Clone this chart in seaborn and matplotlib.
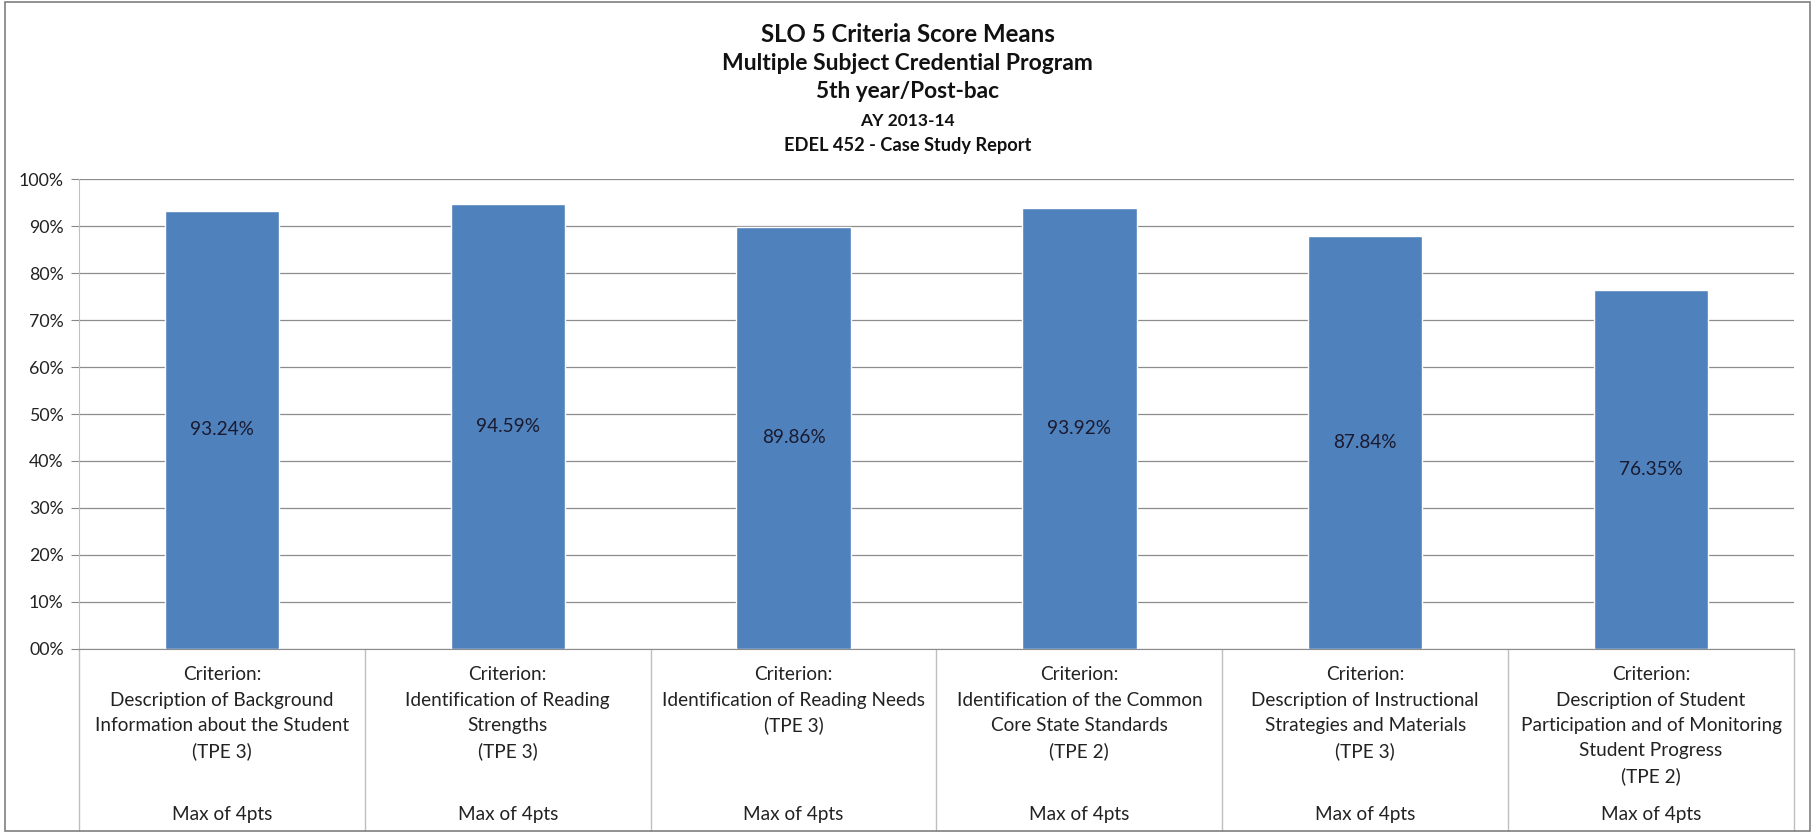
import matplotlib
matplotlib.use("Agg")
import matplotlib.pyplot as plt
import matplotlib.transforms as mtransforms
from matplotlib.patches import Rectangle
from matplotlib.ticker import FuncFormatter
import pandas as pd
import seaborn as sns

# chart data
criteria = [
    ["Criterion:", "Description of Background", "Information about the Student", "(TPE 3)"],
    ["Criterion:", "Identification of Reading", "Strengths", "(TPE 3)"],
    ["Criterion:", "Identification of Reading Needs", "(TPE 3)"],
    ["Criterion:", "Identification of the Common", "Core State Standards", "(TPE 2)"],
    ["Criterion:", "Description of Instructional", "Strategies and Materials", "(TPE 3)"],
    ["Criterion:", "Description of Student", "Participation and of Monitoring",
     "Student Progress", "(TPE 2)"],
]
max_label = "Max of 4pts"
means = [93.24, 94.59, 89.86, 93.92, 87.84, 76.35]
value_labels = ["93.24%", "94.59%", "89.86%", "93.92%", "87.84%", "76.35%"]
title_lines = [
    "SLO 5 Criteria Score Means",
    "Multiple Subject Credential Program",
    "5th year/Post-bac",
    "AY 2013-14",
    "EDEL 452 - Case Study Report",
]

df = pd.DataFrame({"criterion": [f"c{i}" for i in range(len(means))], "mean": means})

sns.set_style("white")
plt.rcParams["font.family"] = ["Lato", "DejaVu Sans"]

fig = plt.figure(figsize=(18.15, 8.33), dpi=100)
renderer = fig.canvas.get_renderer()


def fit_size(text, weight, target_px):
    # font size that makes `text` about target_px wide
    t = fig.text(0, 0, text, fontsize=10, fontweight=weight)
    w = t.get_window_extent(renderer).width
    t.remove()
    return 10 * target_px / w


ax = fig.add_axes([0.0435, 0.2209, 0.9449, 0.5642])

sns.barplot(data=df, x="criterion", y="mean", color="#4F81BD", saturation=1,
            width=0.4, ax=ax)

tick_size = fit_size("100%", "normal", 45)
body_size = fit_size("Information about the Student", "normal", 255)

ax.set_ylim(0, 100)
ax.set_xlim(-0.5, len(means) - 0.5)
ax.set_yticks(range(0, 101, 10))
ax.yaxis.set_major_formatter(FuncFormatter(lambda v, p: f"{int(v):02d}%"))
ax.tick_params(axis="y", labelsize=tick_size, length=6, color="#868686",
               direction="out", left=True, pad=5, labelcolor="#222222")
ax.tick_params(axis="x", bottom=False, labelbottom=False)
ax.grid(axis="y", color="#8c8c8c", linewidth=0.9)
ax.set_axisbelow(True)
ax.set_xlabel("")
ax.set_ylabel("")
for side in ["top", "right"]:
    ax.spines[side].set_visible(False)
ax.spines["left"].set_color("#bfbfbf")
ax.spines["bottom"].set_color("#8c8c8c")

# values in the middle of each bar
for i, (v, lab) in enumerate(zip(means, value_labels)):
    ax.text(i, v / 2, lab, ha="center", va="center", fontsize=body_size,
            color="#1a1a2e")

# category table under the axis
trans = mtransforms.blended_transform_factory(ax.transData, ax.transAxes)
ax_h = 470.0
table_bottom = -182 / ax_h
for i in range(len(means) + 1):
    ax.plot([i - 0.5, i - 0.5], [0, table_bottom], transform=trans, color="#bfbfbf",
            linewidth=1, clip_on=False)
for i, lines in enumerate(criteria):
    for k, line in enumerate(lines):
        ax.text(i, -(26 + 25.3 * k) / ax_h, line, transform=trans, ha="center",
                va="center", fontsize=body_size, color="#222222")
    ax.text(i, -166 / ax_h, max_label, transform=trans, ha="center", va="center",
            fontsize=body_size, color="#222222")

# titles
title_y = [34, 63, 91, 121, 146]
title_w = [295, 372, 183, 95, 248]
for t, y, w in zip(title_lines, title_y, title_w):
    fig.text(0.5, 1 - y / 833, t, ha="center", va="center",
             fontsize=fit_size(t, "bold", w), fontweight="bold", color="#111111")

# outer chart frame
fig.patches.append(Rectangle((0.003, 0.003), 0.994, 0.994, transform=fig.transFigure,
                             fill=False, edgecolor="#7f7f7f", linewidth=1.2))

plt.savefig("out.png", dpi=100)
